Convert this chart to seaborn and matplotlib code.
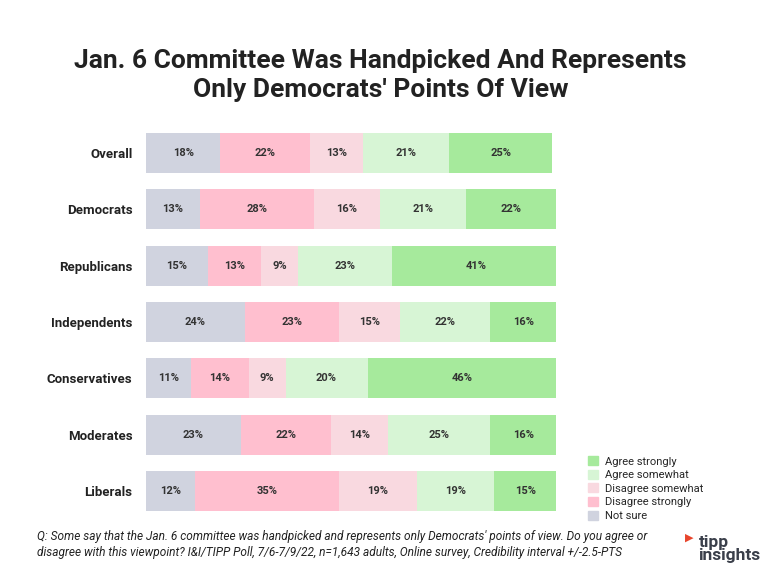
import numpy as np
import pandas as pd
import matplotlib
matplotlib.use("Agg")
import matplotlib.pyplot as plt
import seaborn as sns
from matplotlib.patches import Patch

# Jan. 6 committee poll, IGI/TIPP 7/6-7/9/22
groups = ["Overall", "Democrats", "Republicans", "Independents",
          "Conservatives", "Moderates", "Liberals"]
not_sure = [18, 13, 15, 24, 11, 23, 12]
disagree_strongly = [22, 28, 13, 23, 14, 22, 35]
disagree_somewhat = [13, 16, 9, 15, 9, 14, 19]
agree_somewhat = [21, 21, 23, 22, 20, 25, 19]
agree_strongly = [25, 22, 41, 16, 46, 16, 15]

answers = ["Not sure", "Disagree strongly", "Disagree somewhat",
           "Agree somewhat", "Agree strongly"]
colors = ["#D0D3DF", "#FFBFCF", "#F9D9E0", "#D7F5D5", "#A6EA9C"]

df = pd.DataFrame({
    "Group": groups,
    "Not sure": not_sure,
    "Disagree strongly": disagree_strongly,
    "Disagree somewhat": disagree_somewhat,
    "Agree somewhat": agree_somewhat,
    "Agree strongly": agree_strongly,
})
cum = df[answers].cumsum(axis=1)

sns.set_style("white")
plt.rcParams["font.family"] = ["Roboto", "DejaVu Sans"]

fig = plt.figure(figsize=(7.7, 5.77), dpi=100)
ax = fig.add_axes([0.19, 0.1005, 0.532, 0.683])

# stacked bars: draw cumulative totals from right to left
for ans, col in reversed(list(zip(answers, colors))):
    sns.barplot(x=cum[ans], y=df["Group"], orient="h", color=col,
                width=0.71, ax=ax, linewidth=0, saturation=1)

# value labels in the middle of each segment
for i in range(len(groups)):
    left = 0
    for ans in answers:
        v = df[ans][i]
        ax.text(left + v / 2, i, f"{v}%", ha="center", va="center",
                fontsize=8, fontweight="bold", color="#333333")
        left += v

ax.set_xlim(0, 100)
ax.set_ylim(6.5, -0.5)
ax.set_xlabel("")
ax.set_ylabel("")
ax.set_xticks([])
ax.tick_params(axis="y", length=0, pad=10)
for lab in ax.get_yticklabels():
    lab.set_fontsize(9.5)
    lab.set_fontweight("bold")
    lab.set_color("#222222")
sns.despine(ax=ax, left=True, bottom=True)

fig.text(0.494, 0.869, "Jan. 6 Committee Was Handpicked And Represents\nOnly Democrats' Points Of View",
         ha="center", va="center", fontsize=19, fontweight="bold",
         color="#222222", linespacing=1.25)

handles = [Patch(color=c, label=a) for a, c in zip(answers, colors)][::-1]
fig.legend(handles=handles, loc="upper left", bbox_to_anchor=(0.758, 0.217),
           frameon=False, fontsize=8, handlelength=0.85, handleheight=0.85,
           handletextpad=0.7, labelspacing=0.3, borderaxespad=0)

fig.text(0.048, 0.056,
         "Q: Some say that the Jan. 6 committee was handpicked and represents only Democrats' points of view. Do you agree or\n"
         "disagree with this viewpoint? I&I/TIPP Poll, 7/6-7/9/22, n=1,643 adults, Online survey, Credibility interval +/-2.5-PTS",
         ha="left", va="center", fontsize=8.6, style="italic", color="#222222",
         linespacing=1.35)

# logo
fig.text(0.907, 0.048, "tipp\ninsights", ha="left", va="center", fontsize=12.5,
         fontweight="bold", color="#3a3f4a", linespacing=0.85)
fig.text(0.895, 0.068, "▶", ha="center", va="center", fontsize=8, color="#E8452C")

fig.savefig("out.png", dpi=100)
